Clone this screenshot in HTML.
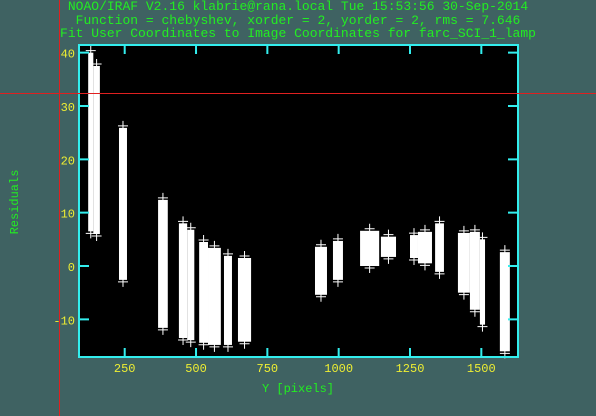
<!DOCTYPE html>
<html><head><meta charset="utf-8"><style>
html,body{margin:0;padding:0;background:#3f6262;}
svg{display:block;font-family:"Liberation Mono",monospace;}
</style></head><body>
<svg id="chart" width="596" height="416" viewBox="0 0 596 416" xmlns="http://www.w3.org/2000/svg">
<rect x="0" y="0" width="596" height="416" fill="#3f6262"/>
<g fill="#22ee22" font-size="13" text-anchor="middle">
<text x="298" y="10">NOAO/IRAF V2.16 klabrie@rana.local Tue 15:53:56 30-Sep-2014</text>
<text x="298" y="24">Function = chebyshev, xorder = 2, yorder = 2, rms = 7.646</text>
<text x="298" y="37">Fit User Coordinates to Image Coordinates for farc_SCI_1_lamp</text>
</g>
<rect x="79" y="45" width="439" height="312" fill="#000"/>
<g id="marks"></g>
<g id="axes"></g>
<text x="298" y="392" fill="#22ee22" font-size="12" text-anchor="middle">Y [pixels]</text>
<text x="0" y="0" fill="#22ee22" font-size="12" text-anchor="middle" transform="translate(18,202) rotate(-90)">Residuals</text>
<line x1="59.5" y1="0" x2="59.5" y2="416" stroke="#e02020" stroke-width="1"/>
<line x1="0" y1="93.5" x2="596" y2="93.5" stroke="#e02020" stroke-width="1"/>
</svg>
<script>
// data columns: x range (pixels, data units) and residual range
const colXMin = [122, 140, 230, 367, 440, 469, 511, 542, 598, 647, 917, 980, 1075, 1148, 1250, 1278, 1338, 1418, 1460, 1495, 1565];
const colXMax = [140, 163, 258, 401, 469, 494, 542, 587, 626, 693, 959, 1015, 1142, 1201, 1278, 1327, 1369, 1460, 1495, 1513, 1600];
const colYMin = [6.5, 6.0, -2.6, -11.6, -13.5, -13.9, -14.4, -14.8, -14.8, -14.2, -5.4, -2.6, 0.0, 1.7, 1.5, 0.5, -1.1, -5.0, -8.2, -11.0, -16.0];
const colYMax = [40.0, 37.5, 25.9, 12.4, 8.0, 6.8, 4.5, 3.4, 1.9, 1.5, 3.6, 4.7, 6.6, 5.5, 5.8, 6.4, 8.0, 6.2, 6.4, 5.0, 2.6];
const xTicks = [250, 500, 750, 1000, 1250, 1500];
const yTicks = [-10, 0, 10, 20, 30, 40];

const X0 = 79, X1 = 518, Y0 = 45, Y1 = 357;
function sx(v){ return 124.7 + (v - 250) * 0.2853; }
function sy(v){ return 266 - v * 5.333; }
const NS = "http://www.w3.org/2000/svg";
function mk(tag, attrs, parent){
  const e = document.createElementNS(NS, tag);
  for (const k in attrs) e.setAttribute(k, attrs[k]);
  parent.appendChild(e);
  return e;
}
const marks = document.getElementById('marks');
for (let i = 0; i < colXMin.length; i++){
  const xa = sx(colXMin[i]), xb = sx(colXMax[i]);
  const ya = sy(colYMax[i]), yb = sy(colYMin[i]);
  const r = mk('rect', {x: xa, y: ya, width: Math.max(3, xb - xa), height: yb - ya, fill: '#fff'}, marks);
  
  
  const cx = (xa + xb) / 2;
  [colYMax[i], colYMin[i]].forEach(function(v, j){
    const py = sy(v) + (j === 0 ? -2 : 2);
    const p = mk('path', {d: 'M' + (cx - 5) + ' ' + py + 'H' + (cx + 5) + 'M' + cx + ' ' + (py - 5) + 'V' + (py + 5), stroke: '#fff', 'stroke-width': 1, fill: 'none'}, marks);
    
    
  });
}
const axes = document.getElementById('axes');
const frame = mk('rect', {x: X0, y: Y0, width: X1 - X0, height: Y1 - Y0, fill: 'none', stroke: '#33eeee', 'stroke-width': 2}, axes);


xTicks.forEach(function(v){
  const x = sx(v);
  const t = mk('path', {d: 'M' + x + ' ' + Y1 + 'V' + (Y1 - 9) + 'M' + x + ' ' + Y0 + 'V' + (Y0 + 9), stroke: '#33eeee', 'stroke-width': 2}, axes);
  
  
  const l = mk('text', {x: x, y: Y1 + 15, fill: '#eeee33', 'font-size': 12, 'text-anchor': 'middle'}, axes);
  l.textContent = v;
  
  
});
yTicks.forEach(function(v){
  const y = sy(v);
  const t = mk('path', {d: 'M' + X0 + ' ' + y + 'H' + (X0 + 10) + 'M' + X1 + ' ' + y + 'H' + (X1 - 10), stroke: '#33eeee', 'stroke-width': 2}, axes);
  
  
  const l = mk('text', {x: X0 - 4, y: y + 5, fill: '#eeee33', 'font-size': 12, 'text-anchor': 'end'}, axes);
  l.textContent = v;
  
  
});
</script>
</body></html>
